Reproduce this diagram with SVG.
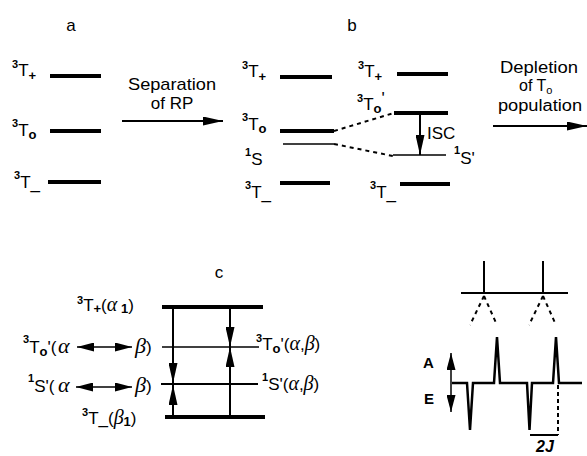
<svg xmlns="http://www.w3.org/2000/svg" width="587" height="456" viewBox="0 0 587 456">
  <style>
    text { font-family: "Liberation Sans", Arial, Helvetica, sans-serif; font-size: 17px; fill: #000; }
    .c { text-anchor: middle; }
    .cap { font-size: 16px; }
    .sm { font-size: 11px; }
    .sup { font-size: 11px; font-weight: bold; }
    .sub { font-size: 13px; font-weight: bold; }
    .gr { font-family: "Liberation Serif", "Times New Roman", serif; font-style: italic; font-size: 20px; }
    .grl { font-family: "Liberation Serif", "Times New Roman", serif; font-style: italic; font-size: 22px; }
    .bold { font-weight: bold; }
    .lvl { stroke: #000; stroke-width: 4; }
    .thin { stroke: #000; stroke-width: 1.5; }
    .arr { stroke: #000; stroke-width: 2; fill: none; }
    .dash { stroke: #000; stroke-width: 2; stroke-dasharray: 4 4; fill: none; }
  </style>
  <defs>
    <marker id="head" markerUnits="userSpaceOnUse" markerWidth="20" markerHeight="9" refX="20" refY="4.5" orient="auto">
      <path d="M0,0 L20,4.5 L0,9 Z" fill="#000"/>
    </marker>
    <marker id="headS" markerUnits="userSpaceOnUse" markerWidth="17" markerHeight="9" refX="17" refY="4.5" orient="auto-start-reverse">
      <path d="M0,0 L17,4.5 L0,9 Z" fill="#000"/>
    </marker>
  </defs>

  <!-- panel a: triplet levels of the radical pair -->
  <g id="panel-a">
    <text class="c" x="71" y="31">a</text>
    <g id="a-Tplus">
      <line class="lvl" x1="50" y1="76" x2="101" y2="76"/>
      <text x="12" y="68"><tspan class="sup">3</tspan><tspan y="76">T</tspan><tspan class="sub" y="80">+</tspan></text>
    </g>
    <g id="a-T0">
      <line class="lvl" x1="50" y1="131" x2="101" y2="131"/>
      <text x="12" y="127"><tspan class="sup">3</tspan><tspan y="136">T</tspan><tspan class="sub" y="139">o</tspan></text>
    </g>
    <g id="a-Tminus">
      <line class="lvl" x1="48" y1="182" x2="101" y2="182"/>
      <text x="14" y="179"><tspan class="sup">3</tspan><tspan y="188">T</tspan><tspan y="189">_</tspan></text>
    </g>
  </g>

  <!-- panel b: levels before and after separation -->
  <g id="panel-b">
    <text class="c" x="352" y="31">b</text>
    <g id="b-Tplus">
      <line class="lvl" x1="280" y1="77" x2="332" y2="77"/>
      <text x="242" y="69"><tspan class="sup">3</tspan><tspan y="77">T</tspan><tspan class="sub" y="81">+</tspan></text>
    </g>
    <g id="b-T0">
      <line class="lvl" x1="280" y1="131" x2="334" y2="131"/>
      <text x="242" y="121"><tspan class="sup">3</tspan><tspan y="130">T</tspan><tspan class="sub" y="133">o</tspan></text>
    </g>
    <g id="b-S">
      <line class="thin" x1="283" y1="144" x2="334" y2="144"/>
      <text x="245" y="156"><tspan class="sup">1</tspan><tspan y="165">S</tspan></text>
    </g>
    <g id="b-Tminus">
      <line class="lvl" x1="280" y1="183" x2="330" y2="183"/>
      <text x="245" y="189"><tspan class="sup">3</tspan><tspan y="198">T</tspan><tspan y="199">_</tspan></text>
    </g>
    <g id="b2-Tplus">
      <line class="lvl" x1="397" y1="74" x2="448" y2="74"/>
      <text x="358" y="69"><tspan class="sup">3</tspan><tspan y="77">T</tspan><tspan class="sub" y="81">+</tspan></text>
    </g>
    <g id="b2-T0">
      <line class="lvl" x1="394" y1="113" x2="448" y2="113"/>
      <text x="357" y="102"><tspan class="sup">3</tspan><tspan y="110">T</tspan><tspan class="sub" y="113">o</tspan><tspan y="104">'</tspan></text>
    </g>
    <g id="b2-S">
      <line class="thin" x1="393" y1="155" x2="446" y2="155"/>
      <text x="454" y="154"><tspan class="sup">1</tspan><tspan y="164">S'</tspan></text>
    </g>
    <g id="b2-Tminus">
      <line class="lvl" x1="400" y1="184" x2="450" y2="184"/>
      <text x="370" y="189"><tspan class="sup">3</tspan><tspan y="198">T</tspan><tspan y="199">_</tspan></text>
    </g>
  </g>

  <!-- panel c: spin-polarised levels -->
  <g id="panel-c">
    <text class="c" x="219" y="278">c</text>
    <g id="c-Tplus">
      <line class="lvl" x1="162" y1="307" x2="263" y2="307"/>
      <text x="77" y="304"><tspan class="sup">3</tspan><tspan y="311">T</tspan><tspan class="sub" y="313">+</tspan><tspan y="311">(</tspan><tspan class="gr">α</tspan><tspan class="sub" y="313"> 1</tspan><tspan y="311">)</tspan></text>
    </g>
    <g id="c-T0">
      <line class="thin" x1="162" y1="347" x2="259" y2="347"/>
      <text x="23" y="343"><tspan class="sup">3</tspan><tspan y="353">T</tspan><tspan class="sub" y="356">o</tspan><tspan y="353">'(</tspan><tspan class="grl" x="58">α</tspan></text>
      <text x="135" y="353"><tspan class="grl">β</tspan>)</text>
      <text x="256" y="342"><tspan class="sup">3</tspan><tspan y="350">T</tspan><tspan class="sub" y="353">o</tspan><tspan y="350">'(</tspan><tspan class="gr">α</tspan>,<tspan class="gr">β</tspan>)</text>
    </g>
    <g id="c-S">
      <line class="arr" x1="161" y1="384" x2="258" y2="384"/>
      <text x="28" y="382"><tspan class="sup">1</tspan><tspan y="392">S'(</tspan><tspan class="grl" x="58">α</tspan></text>
      <text x="135" y="392"><tspan class="grl">β</tspan>)</text>
      <text x="262" y="381"><tspan class="sup">1</tspan><tspan y="390">S'(</tspan><tspan class="gr">α</tspan>,<tspan class="gr">β</tspan>)</text>
    </g>
    <g id="c-Tminus">
      <line class="lvl" x1="165" y1="417" x2="265" y2="417"/>
      <text x="82" y="416"><tspan class="sup">3</tspan><tspan y="424">T_(</tspan><tspan class="gr">β</tspan><tspan class="sub" y="426">1</tspan><tspan y="424">)</tspan></text>
    </g>
  </g>

  <!-- panel d: stick spectrum and polarised lines -->
  <g id="panel-d">
    <g id="d-sticks">
      <line class="arr" x1="461" y1="293" x2="568" y2="293"/>
      <line class="arr" x1="484" y1="261" x2="484" y2="293"/>
      <line class="arr" x1="543" y1="261" x2="543" y2="293"/>
    </g>
    <g id="d-spectrum">
      <path d="M452,383 L467,383 L470,430 L473,383 L494,383 L497,337 L500,383 L527,383 L529.5,430 L532,383 L553,383 L556,337 L559,383 L582,383" fill="none" stroke="#000" stroke-width="2.5" stroke-linejoin="miter"/>
      <text class="bold" x="423" y="368" style="font-size:15px">A</text>
      <text class="bold" x="424" y="404" style="font-size:15px">E</text>
    </g>
    <g id="d-splitting">
      <line class="arr" x1="530" y1="435" x2="558" y2="435"/>
      <text x="545" y="452" class="c" style="font-weight:bold;font-style:italic;font-size:16px">2J</text>
    </g>
  </g>

  <!-- connectors -->
  <g id="connectors">
    <line class="arr" x1="122" y1="121" x2="223" y2="121" marker-end="url(#head)"/>
    <text class="c" x="172" y="90" textLength="88" lengthAdjust="spacingAndGlyphs">Separation</text>
    <text class="c" x="172" y="109">of RP</text>

    <line class="arr" x1="493" y1="126" x2="587" y2="126" marker-end="url(#head)"/>
    <text class="c cap" x="539" y="73" textLength="78" lengthAdjust="spacingAndGlyphs">Depletion</text>
    <text class="cap" x="519" y="91">of T<tspan class="sm" y="94">o</tspan></text>
    <text class="c cap" x="540" y="111" textLength="84" lengthAdjust="spacingAndGlyphs">population</text>

    <line class="dash" x1="334" y1="131" x2="394" y2="113"/>
    <line class="dash" x1="334" y1="144" x2="393" y2="156"/>

    <line class="arr" x1="420" y1="113" x2="420" y2="155" marker-end="url(#head)"/>
    <text x="427" y="139">ISC</text>

    <line class="arr" x1="173" y1="307" x2="173" y2="383" marker-end="url(#head)"/>
    <line class="arr" x1="173" y1="417" x2="173" y2="385" marker-end="url(#head)"/>
    <line class="arr" x1="230" y1="307" x2="230" y2="347" marker-end="url(#head)"/>
    <line class="arr" x1="230" y1="417" x2="230" y2="347" marker-end="url(#head)"/>

    <line class="thin" x1="77" y1="347" x2="132" y2="347" marker-start="url(#headS)" marker-end="url(#headS)"/>
    <line class="thin" x1="76" y1="387" x2="132" y2="387" marker-start="url(#headS)" marker-end="url(#headS)"/>

    <line class="thin" x1="451" y1="353" x2="451" y2="412" marker-start="url(#headS)" marker-end="url(#headS)"/>

    <line class="dash" x1="484" y1="296" x2="470" y2="325"/>
    <line class="dash" x1="484" y1="296" x2="497" y2="325"/>
    <line class="dash" x1="543" y1="296" x2="529" y2="325"/>
    <line class="dash" x1="543" y1="296" x2="556" y2="325"/>
    <line class="dash" x1="558" y1="385" x2="558" y2="435" style="stroke-dasharray:4 3"/>
  </g>
</svg>
